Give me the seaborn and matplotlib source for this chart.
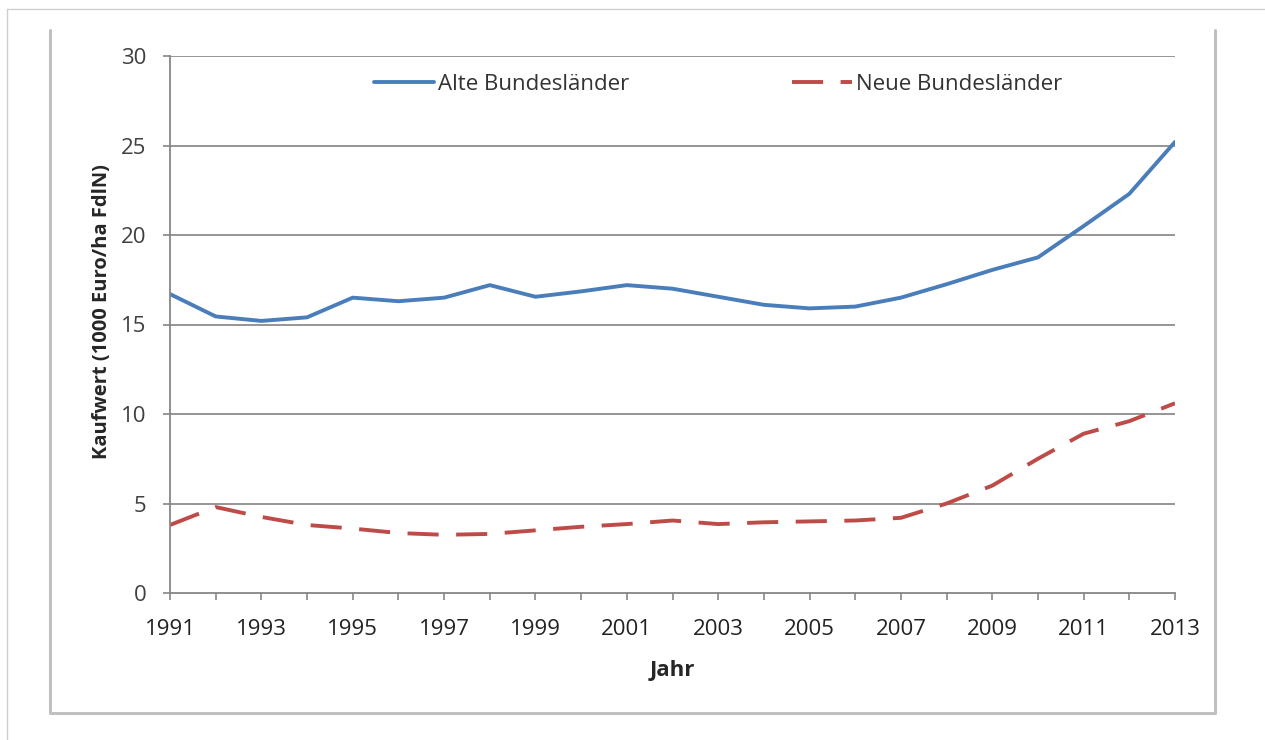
import pandas as pd
import seaborn as sns
import matplotlib.pyplot as plt
from matplotlib.lines import Line2D

# Data
years = list(range(1991, 2014))
alte = [16.7, 15.45, 15.2, 15.4, 16.5, 16.3, 16.5, 17.2, 16.55, 16.85, 17.2, 17.0,
        16.55, 16.1, 15.9, 16.0, 16.5, 17.25, 18.05, 18.75, 20.5, 22.3, 25.2]
neue = [3.8, 4.8, 4.25, 3.8, 3.6, 3.35, 3.25, 3.3, 3.5, 3.7, 3.85, 4.05,
        3.85, 3.95, 4.0, 4.05, 4.2, 5.0, 6.0, 7.5, 8.9, 9.6, 10.6]
series_names = ['Alte Bundesländer', 'Neue Bundesländer']
y_ticks = [0, 5, 10, 15, 20, 25, 30]

sns.set_theme(style="white")
plt.rcParams['font.family'] = ['Open Sans', 'DejaVu Sans']

W, H = 1265, 740
fig = plt.figure(figsize=(W / 100, H / 100), dpi=100)
ax = fig.add_axes([170 / W, 1 - 593 / H, 1005 / W, 537 / H])


def px_line(xs, ys, color, lw):
    # helper: draw a line given in pixel coords of the figure
    fig.lines.append(Line2D([x / W for x in xs], [1 - y / H for y in ys],
                            transform=fig.transFigure, color=color, linewidth=lw))


# outer image border (top and left) and chart frame (left, bottom, right)
px_line([7, W], [9, 9], '#cfcfcf', 1.0)
px_line([7, 7], [9, H], '#cfcfcf', 1.0)
px_line([50, 50, 1215, 1215], [30, 713, 713, 30], '#c0c0c0', 2.2)

df = pd.DataFrame({'Jahr': years, series_names[0]: alte, series_names[1]: neue})

sns.lineplot(data=df, x='Jahr', y=series_names[0], ax=ax, color='#4a7ebb',
             linewidth=2.8, label=series_names[0])
sns.lineplot(data=df, x='Jahr', y=series_names[1], ax=ax, color='#be4b48',
             linewidth=2.8, label=series_names[1])
ax.lines[1].set_dashes((8, 4.5))

ax.set_xlim(1991, 2013)
ax.set_ylim(0, 30)
ax.set_yticks(y_ticks)
ax.set_yticklabels([str(v) for v in y_ticks], fontsize=16, color='#404040')
ax.set_xticks(years)
ax.set_xticklabels([str(y) if (y - 1991) % 2 == 0 else '' for y in years],
                   fontsize=16, color='#222222')
ax.tick_params(axis='both', direction='out', length=5, width=1.2, color='#868686',
               bottom=True, left=True)
ax.tick_params(axis='y', pad=12)
ax.tick_params(axis='x', pad=14)

for v in y_ticks[1:]:
    ax.axhline(v, color='#8c8c8c', linewidth=1.3, zorder=0)

for side in ['top', 'right']:
    ax.spines[side].set_visible(False)
for side in ['left', 'bottom']:
    ax.spines[side].set_color('#868686')
    ax.spines[side].set_linewidth(1.3)

ax.set_xlabel('Jahr', fontsize=16, fontweight='bold', labelpad=14)
ax.set_ylabel('Kaufwert (1000 Euro/ha FdlN)', fontsize=14.5, fontweight='bold')
ax.yaxis.set_label_coords(-0.058, 0.525)

leg = ax.legend(loc='upper left', ncol=2, frameon=False, fontsize=16,
                bbox_to_anchor=(0.185, 1.0), columnspacing=7.3, handlelength=2.7,
                handletextpad=0.2, borderpad=0.3)
leg.get_lines()[1].set_dashes((8, 4.5))
for t in leg.get_texts():
    t.set_color('#333333')

fig.savefig('out.png', dpi=100)
